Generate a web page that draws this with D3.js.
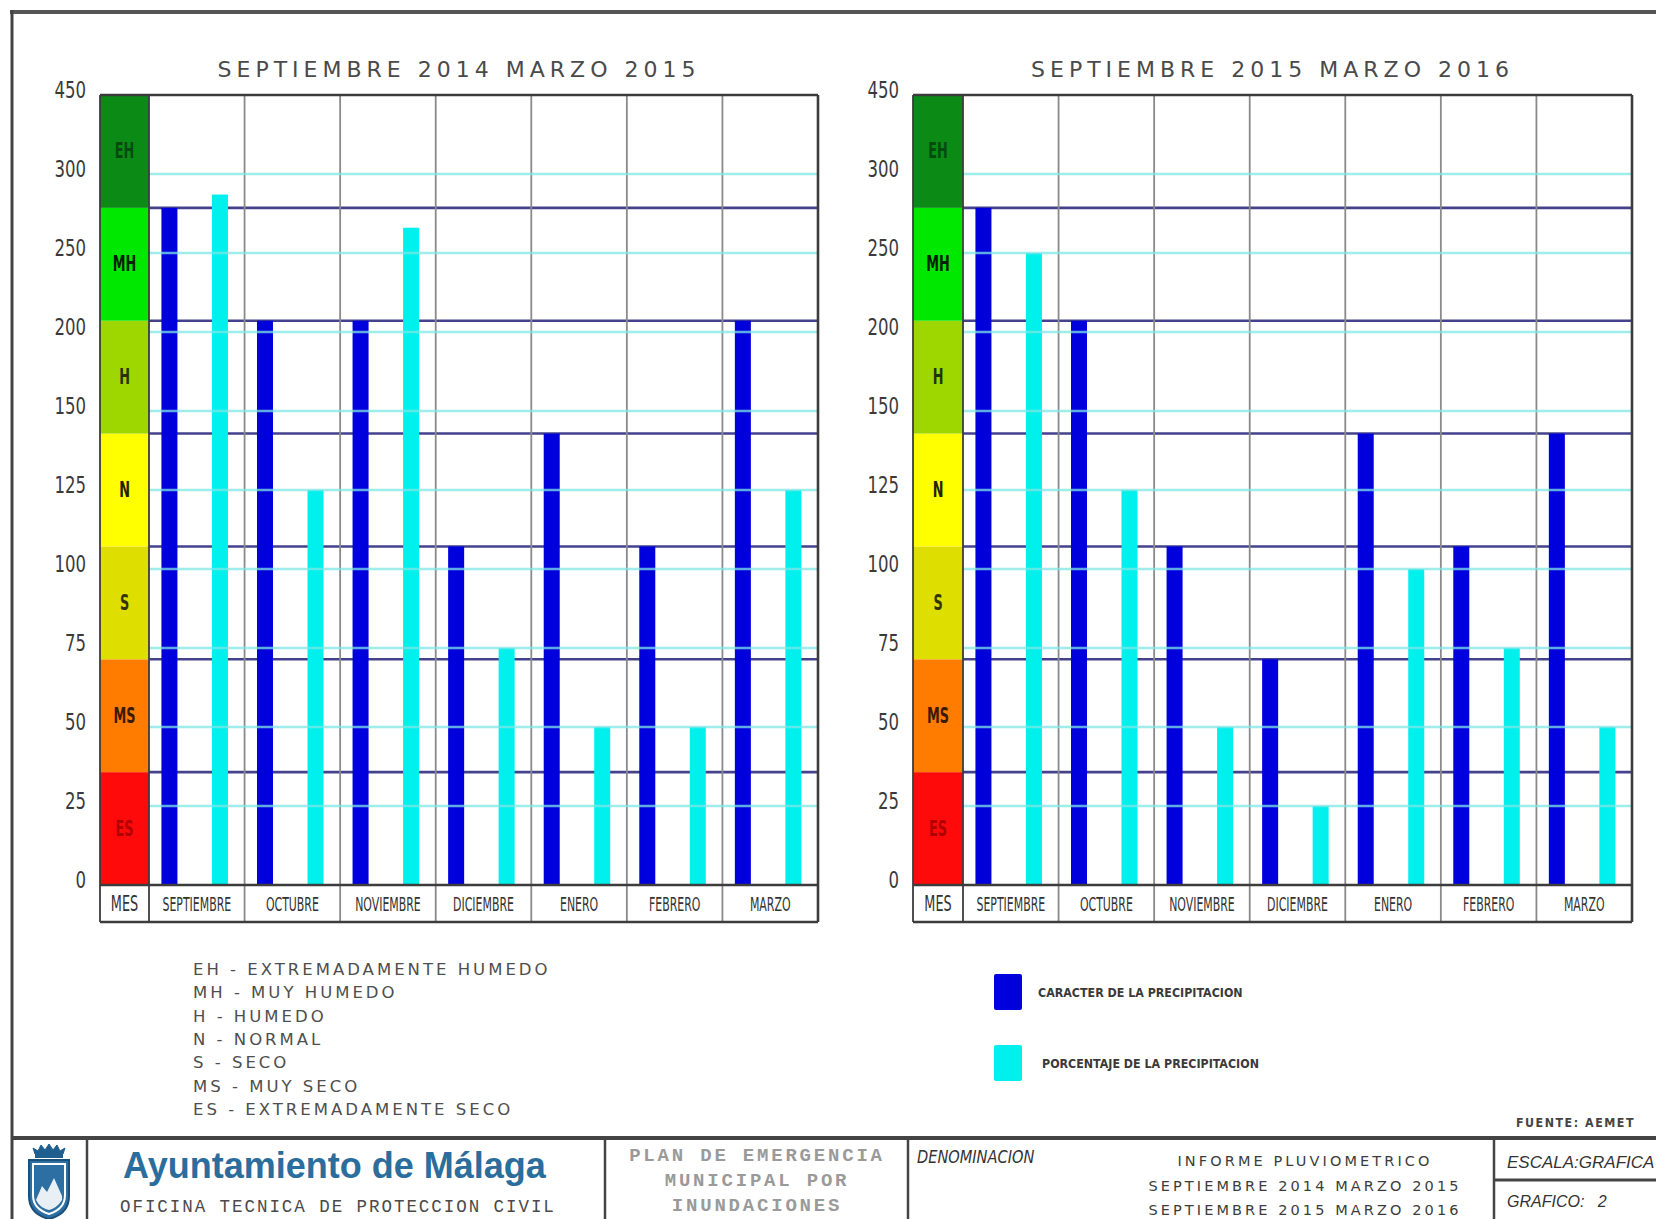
<!DOCTYPE html>
<html>
<head>
<meta charset="utf-8">
<script src="https://cdn.jsdelivr.net/npm/d3@7"></script>
<style>
  html, body { margin: 0; padding: 0; background: #fff; }
  svg { display: block; }
  .narrow { font-family: 'Liberation Sans Narrow', 'DejaVu Sans Condensed', 'Arial Narrow', sans-serif; font-stretch: condensed; }
  .cad { font-family: 'DejaVu Sans', 'Liberation Sans', sans-serif; }
</style>
</head>
<body>
<svg id="chart" width="1656" height="1219"></svg>
<script>
// Months of the hydrological period (September to March)
const months = ["SEPTIEMBRE", "OCTUBRE", "NOVIEMBRE", "DICIEMBRE", "ENERO", "FEBRERO", "MARZO"];

// Percentage axis labels (equally spaced, non-linear values)
const yTicks = [0, 25, 50, 75, 100, 125, 150, 200, 250, 300, 450];

// Precipitation character classes, from driest to wettest
const bandCodes = ["ES", "MS", "S", "N", "H", "MH", "EH"];
const bandNames = ["EXTREMADAMENTE SECO", "MUY SECO", "SECO", "NORMAL", "HUMEDO", "MUY HUMEDO", "EXTREMADAMENTE HUMEDO"];
const bandColors = ["#ff0a0a", "#ff7c00", "#dede00", "#ffff00", "#9ed600", "#00e800", "#0b8a16"];
const bandTextColors = ["#b00000", "#3a1a00", "#333300", "#222200", "#223300", "#002200", "#064a10"];

// Period titles
const periodTitles = ["SEPTIEMBRE 2014 MARZO 2015", "SEPTIEMBRE 2015 MARZO 2016"];

// Character of the precipitation (class level: 1 = ES ... 7 = EH)
const caracter2014 = [6, 5, 5, 3, 4, 3, 5];
const caracter2015 = [6, 5, 3, 2, 4, 3, 4];

// Percentage of the precipitation (% of normal)
const porcentaje2014 = [287, 125, 266, 75, 50, 50, 125];
const porcentaje2015 = [250, 125, 50, 25, 100, 75, 50];

// Legend entries for the two series
const seriesLabels = ["CARACTER DE LA PRECIPITACION", "PORCENTAJE DE LA PRECIPITACION"];

const BLUE = "#0000dc";
const CYAN = "#00f0ee";
const NAVY_LINE = "#44428c";
const CYAN_LINE = "#7fe6e6";
const GRID = "#8a8a8a";
const FRAME = "#3c3c3c";

const svg = d3.select("#chart");
svg.append("rect").attr("width", 1656).attr("height", 1219).attr("fill", "#fff");

const TOP = 95, BOTTOM = 885, LABEL_BOTTOM = 922;

function drawPanel(colorLeft, plotLeft, plotRight, title, caracter, porcentaje) {
  const g = svg.append("g");

  const x = d3.scaleBand().domain(months).range([plotLeft, plotRight]).padding(0);
  const bw = x.bandwidth();
  const xSub = d3.scaleBand().domain(["caracter", "porcentaje"])
    .range([bw * 0.13, bw * 0.826]).paddingInner(0.683).paddingOuter(0);

  const yPct = d3.scaleLinear()
    .domain(yTicks)
    .range(yTicks.map((d, i) => BOTTOM - i * (BOTTOM - TOP) / (yTicks.length - 1)));
  const yLvl = d3.scaleLinear().domain([0, bandCodes.length]).range([BOTTOM, TOP]);

  // Title
  g.append("text")
    .attr("class", "cad")
    .attr("x", (colorLeft + plotRight) / 2)
    .attr("y", 77)
    .attr("text-anchor", "middle")
    .attr("font-size", 22)
    .attr("letter-spacing", 5)
    .attr("fill", "#4a4a4a")
    .text(title);

  // Character colour column
  const levels = d3.range(bandCodes.length);
  g.selectAll("rect.band").data(levels).join("rect")
    .attr("class", "band")
    .attr("x", colorLeft).attr("width", plotLeft - colorLeft)
    .attr("y", i => yLvl(i + 1))
    .attr("height", i => yLvl(i) - yLvl(i + 1))
    .attr("fill", i => bandColors[i]);

  g.selectAll("g.bandLabel").data(levels).join("g")
    .attr("class", "bandLabel")
    .attr("transform", i => `translate(${(colorLeft + plotLeft) / 2},${(yLvl(i) + yLvl(i + 1)) / 2 + 7})`)
    .append("text")
    .attr("class", "narrow")
    .attr("transform", "scale(0.68,1)")
    .attr("text-anchor", "middle")
    .attr("font-size", 21)
    .attr("font-weight", "bold")
    .attr("fill", i => bandTextColors[i])
    .text(i => bandCodes[i]);

  // Class boundary lines
  g.selectAll("line.lvl").data(d3.range(1, bandCodes.length)).join("line")
    .attr("class", "lvl")
    .attr("x1", plotLeft).attr("x2", plotRight)
    .attr("y1", d => yLvl(d)).attr("y2", d => yLvl(d))
    .attr("stroke", NAVY_LINE).attr("stroke-width", 2.6);

  // Column separators
  g.selectAll("line.col").data(months.slice(1)).join("line")
    .attr("class", "col")
    .attr("x1", d => x(d)).attr("x2", d => x(d))
    .attr("y1", TOP).attr("y2", LABEL_BOTTOM)
    .attr("stroke", GRID).attr("stroke-width", 1.8);

  // Bars: character
  g.selectAll("rect.car").data(months).join("rect")
    .attr("class", "car")
    .attr("x", d => x(d) + xSub("caracter"))
    .attr("width", xSub.bandwidth())
    .attr("y", (d, i) => yLvl(caracter[i]))
    .attr("height", (d, i) => BOTTOM - yLvl(caracter[i]))
    .attr("fill", BLUE);

  // Bars: percentage
  g.selectAll("rect.pct").data(months).join("rect")
    .attr("class", "pct")
    .attr("x", d => x(d) + xSub("porcentaje"))
    .attr("width", xSub.bandwidth())
    .attr("y", (d, i) => yPct(porcentaje[i]))
    .attr("height", (d, i) => BOTTOM - yPct(porcentaje[i]))
    .attr("fill", CYAN);

  // Percentage gridlines (drawn over the bars)
  g.selectAll("line.pctGrid").data(yTicks.filter(d => d > 0 && d < 450)).join("line")
    .attr("class", "pctGrid")
    .attr("x1", plotLeft).attr("x2", plotRight)
    .attr("y1", d => yPct(d)).attr("y2", d => yPct(d))
    .attr("stroke", CYAN_LINE).attr("stroke-width", 2.6).attr("opacity", 0.75);

  // Percentage axis labels
  const axis = d3.axisLeft(yPct).tickValues(yTicks).tickSize(0).tickPadding(0);
  const ax = g.append("g").attr("transform", `translate(${colorLeft - 14},0)`).call(axis);
  ax.select(".domain").remove();
  ax.attr("font-family", null).attr("font-size", null);
  ax.selectAll(".tick text")
    .attr("class", "narrow")
    .attr("font-size", 23)
    .attr("fill", "#3a3a3a")
    .attr("dy", "0.1em")
    .attr("x", 0)
    .attr("text-anchor", "end")
    .attr("transform", "scale(0.8,1)");

  // Frame of the plot and the month row
  [TOP, BOTTOM, LABEL_BOTTOM].forEach(yv => {
    g.append("line").attr("x1", colorLeft).attr("x2", plotRight).attr("y1", yv).attr("y2", yv)
      .attr("stroke", FRAME).attr("stroke-width", 2.4);
  });
  g.append("line").attr("x1", colorLeft).attr("x2", colorLeft).attr("y1", TOP).attr("y2", LABEL_BOTTOM)
    .attr("stroke", FRAME).attr("stroke-width", 1.8);
  g.append("line").attr("x1", plotLeft).attr("x2", plotLeft).attr("y1", TOP).attr("y2", LABEL_BOTTOM)
    .attr("stroke", FRAME).attr("stroke-width", 1.8);
  g.append("line").attr("x1", plotRight).attr("x2", plotRight).attr("y1", TOP).attr("y2", LABEL_BOTTOM)
    .attr("stroke", FRAME).attr("stroke-width", 2.6);

  // Month labels
  const rowY = (BOTTOM + LABEL_BOTTOM) / 2 + 7;
  g.append("g").attr("transform", `translate(${(colorLeft + plotLeft) / 2},${rowY})`)
    .append("text").attr("class", "narrow").attr("transform", "scale(0.68,1)")
    .attr("text-anchor", "middle").attr("font-size", 21).attr("fill", "#333").text("MES");
  g.selectAll("g.month").data(months).join("g")
    .attr("class", "month")
    .attr("transform", d => `translate(${x(d) + bw / 2},${rowY})`)
    .append("text").attr("class", "narrow").attr("transform", "scale(0.64,1)")
    .attr("text-anchor", "middle").attr("font-size", 19).attr("fill", "#333")
    .text(d => d);
}

drawPanel(100, 149, 818, periodTitles[0], caracter2014, porcentaje2014);
drawPanel(913, 963, 1632, periodTitles[1], caracter2015, porcentaje2015);

// Class legend (left)
const legendLines = d3.range(bandCodes.length).reverse().map(i => `${bandCodes[i]} - ${bandNames[i]}`);
svg.append("g").selectAll("text").data(legendLines).join("text")
  .attr("class", "cad")
  .attr("x", 193)
  .attr("y", (d, i) => 975 + i * 23.3)
  .attr("font-size", 16.5)
  .attr("letter-spacing", 3)
  .attr("fill", "#4e4e4e")
  .text(d => d);

// Series legend (right)
const legendColors = [BLUE, CYAN];
const lg = svg.append("g");
lg.selectAll("rect").data(seriesLabels).join("rect")
  .attr("x", 994).attr("y", (d, i) => 974 + i * 71)
  .attr("width", 28).attr("height", 36).attr("rx", 2)
  .attr("fill", (d, i) => legendColors[i]);
lg.selectAll("g.lt").data(seriesLabels).join("g")
  .attr("class", "lt")
  .attr("transform", (d, i) => `translate(${1038 + i * 4},${997 + i * 71})`)
  .append("text").attr("class", "narrow")
  .attr("transform", "scale(0.95,1)")
  .attr("font-size", 13).attr("font-weight", "bold").attr("fill", "#3a3a3a")
  .text(d => d);

// Source note
svg.append("g").attr("transform", "translate(1516,1127)")
  .append("text").attr("class", "narrow").attr("transform", "scale(0.95,1)")
  .attr("font-size", 13).attr("font-weight", "bold").attr("letter-spacing", 1.6).attr("fill", "#444")
  .text("FUENTE: AEMET");

// Outer drawing frame
svg.append("line").attr("x1", 10).attr("x2", 1656).attr("y1", 12).attr("y2", 12)
  .attr("stroke", "#555").attr("stroke-width", 4);
svg.append("line").attr("x1", 12).attr("x2", 12).attr("y1", 10).attr("y2", 1219)
  .attr("stroke", "#444").attr("stroke-width", 3);

// Title block
const tb = svg.append("g");
tb.append("line").attr("x1", 12).attr("x2", 1656).attr("y1", 1138).attr("y2", 1138)
  .attr("stroke", "#444").attr("stroke-width", 4);
[87, 605, 908, 1494].forEach(xv => {
  tb.append("line").attr("x1", xv).attr("x2", xv).attr("y1", 1138).attr("y2", 1219)
    .attr("stroke", "#444").attr("stroke-width", 2.5);
});
tb.append("line").attr("x1", 1494).attr("x2", 1656).attr("y1", 1180).attr("y2", 1180)
  .attr("stroke", "#444").attr("stroke-width", 3);

// Municipal shield
const logo = tb.append("g").attr("transform", "translate(49,1148)");
logo.append("path")
  .attr("d", "M-14,6 L-16,0 L-11,3 L-8,-3 L-4,2 L0,-4 L4,2 L8,-3 L11,3 L16,0 L14,6 Z")
  .attr("fill", "#1f5f8f").attr("stroke", "#1f5f8f").attr("stroke-width", 1);
logo.append("rect").attr("x", -14).attr("y", 6).attr("width", 28).attr("height", 4).attr("fill", "#1f5f8f");
logo.append("path")
  .attr("d", "M-20,12 L20,12 L20,48 Q20,66 0,71 Q-20,66 -20,48 Z")
  .attr("fill", "#2d6fa3").attr("stroke", "#1a4f7a").attr("stroke-width", 2);
logo.append("path")
  .attr("d", "M-16,16 L16,16 L16,47 Q16,61 0,66 Q-16,61 -16,47 Z")
  .attr("fill", "none").attr("stroke", "#fff").attr("stroke-width", 2);
logo.append("path")
  .attr("d", "M-13,52 L-7,38 L-2,44 L5,30 L13,48 L13,52 Q8,60 0,62 Q-9,60 -13,52 Z")
  .attr("fill", "#e8f0f6");

tb.append("text")
  .attr("x", 123).attr("y", 1178)
  .attr("font-family", "'Liberation Sans', Arial, sans-serif")
  .attr("font-weight", "bold").attr("font-size", 36)
  .attr("fill", "#2b6d9c")
  .text("Ayuntamiento de Málaga");
tb.append("text")
  .attr("x", 120).attr("y", 1212)
  .attr("font-family", "'Liberation Mono', 'DejaVu Sans Mono', monospace")
  .attr("font-size", 17.5).attr("letter-spacing", 1.95).attr("fill", "#4a4a4a")
  .text("OFICINA TECNICA DE PROTECCION CIVIL");

["PLAN DE EMERGENCIA", "MUNICIPAL POR", "INUNDACIONES"].forEach((t, i) => {
  tb.append("text")
    .attr("x", 757).attr("y", 1161 + i * 25)
    .attr("text-anchor", "middle")
    .attr("font-family", "'Liberation Mono', 'DejaVu Sans Mono', monospace")
    .attr("font-weight", "bold").attr("font-size", 19).attr("letter-spacing", 2.8)
    .attr("fill", "#9a9a9a")
    .text(t);
});

tb.append("g").attr("transform", "translate(917,1163)")
  .append("text").attr("class", "narrow").attr("transform", "scale(0.9,1)")
  .attr("font-size", 18).attr("font-style", "italic").attr("fill", "#333")
  .text("DENOMINACION");

["INFORME PLUVIOMETRICO", periodTitles[0], periodTitles[1]].forEach((t, i) => {
  tb.append("text")
    .attr("class", "cad")
    .attr("x", 1305).attr("y", 1166 + i * 24.5)
    .attr("text-anchor", "middle")
    .attr("font-size", 14.5).attr("letter-spacing", 3.1)
    .attr("fill", "#3c3c3c")
    .text(t);
});

tb.append("text")
  .attr("x", 1507).attr("y", 1168)
  .attr("font-family", "'Liberation Sans', Arial, sans-serif")
  .attr("font-style", "italic").attr("font-size", 17).attr("fill", "#333")
  .text("ESCALA:GRAFICA");
tb.append("text")
  .attr("x", 1507).attr("y", 1207)
  .attr("font-family", "'Liberation Sans', Arial, sans-serif")
  .attr("font-style", "italic").attr("font-size", 16).attr("fill", "#333")
  .attr("xml:space", "preserve")
  .text("GRAFICO:   2");
</script>
</body>
</html>
